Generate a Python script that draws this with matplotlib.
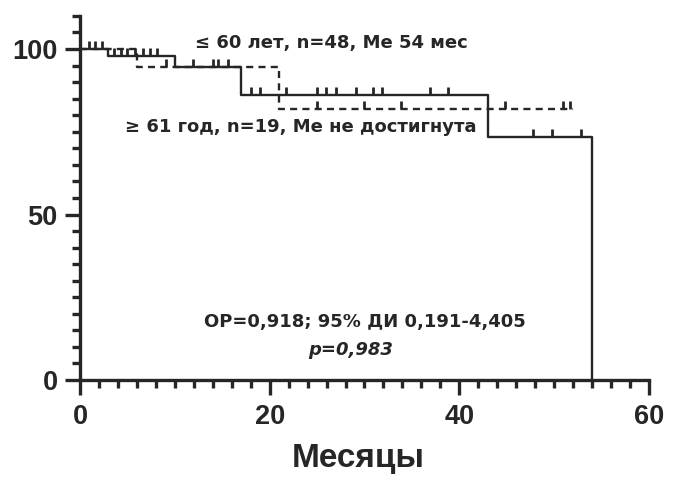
import numpy as np
import matplotlib
matplotlib.use("Agg")
import matplotlib.pyplot as plt
from matplotlib.ticker import MultipleLocator

plt.rcParams["font.family"] = ["Liberation Sans", "DejaVu Sans"]
plt.rcParams["font.weight"] = "bold"

# Group <= 60 years (solid line)
young_times = [0, 3, 10, 17, 43, 54]
young_surv = [100, 97.9, 94.6, 86.1, 73.4, 0]
young_censor = [0.9, 1.6, 2.3, 3.6, 4.3, 5.0, 5.8, 6.6, 7.4, 8.1,
                11.9, 14.0, 14.6, 15.6, 18.0, 19.0, 21.7, 25.0, 25.9, 27.0,
                29.1, 30.9, 31.8, 36.9, 38.8, 47.8, 49.8, 52.8]

# Group >= 61 years (dashed line)
old_times = [0, 6, 21, 52]
old_surv = [100, 94.7, 81.9, 81.9]
old_censor = [9.1, 25.0, 29.9, 33.9, 44.8, 50.9, 51.7]

xticks = [0, 20, 40, 60]
yticks = [0, 50, 100]

label_young = "≤ 60 лет, n=48, Ме 54 мес"
label_old = "≥ 61 год, n=19, Ме не достигнута"
hr_text = "ОР=0,918; 95% ДИ 0,191-4,405"
p_text = "p=0,983"
x_title = "Месяцы"

col = "#262626"


def level_at(times, surv, t):
    idx = np.searchsorted(times, t, side="right") - 1
    return np.array(surv)[idx]


fig = plt.figure(figsize=(6.82, 4.79), dpi=100)
ax = fig.add_axes([0.1173, 0.2067, 0.8343, 0.760])

# survival curves
ax.step(young_times, young_surv, where="post", color=col, lw=1.7)
ax.step(old_times, old_surv, where="post", color=col, lw=1.7,
        linestyle=(0, (3, 2.2)))

# censor ticks
ax.plot(young_censor, level_at(young_times, young_surv, young_censor),
        linestyle="none", marker=2, ms=6, mew=2, color=col)
ax.plot(old_censor, level_at(old_times, old_surv, old_censor),
        linestyle="none", marker=2, ms=6, mew=2, color=col)

ax.set_xlim(0, 60)
ax.set_ylim(0, 110)
for s in ["top", "right"]:
    ax.spines[s].set_visible(False)
for s in ["left", "bottom"]:
    ax.spines[s].set_linewidth(2.4)
    ax.spines[s].set_color(col)
    ax.spines[s].set_zorder(5)

ax.set_xticks(xticks)
ax.set_yticks(yticks)
ax.xaxis.set_minor_locator(MultipleLocator(2))
ax.yaxis.set_minor_locator(MultipleLocator(5))
ax.tick_params(which="major", length=11, width=2.4, color=col, pad=5,
               labelsize=19.5, labelcolor=col)
ax.tick_params(which="minor", length=5.5, width=2.4, color=col)
ax.tick_params(axis="x", which="major", pad=6)

txt_font = dict(family=["DejaVu Sans"], fontweight="bold", color=col)
ax.text(12.1, 101.8, label_young, ha="left", va="center", fontsize=13, **txt_font)
ax.text(4.7, 76.4, label_old, ha="left", va="center", fontsize=13, **txt_font)
ax.text(30.0, 17.5, hr_text, ha="center", va="center", fontsize=13, **txt_font)
ax.text(28.5, 9.0, p_text, ha="center", va="center", fontsize=13,
        style="italic", **txt_font)

fig.text(358 / 682, 1 - 467 / 479, x_title, ha="center", va="baseline",
         fontsize=24, fontweight="bold", color=col)

fig.savefig("out.png", dpi=100)
